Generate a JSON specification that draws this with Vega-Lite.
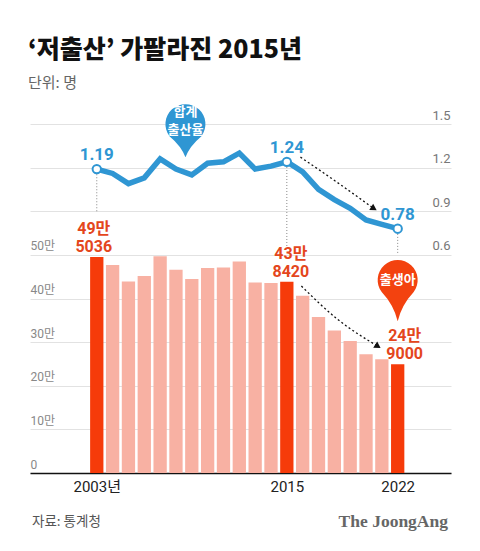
{
  "$schema": "https://vega.github.io/schema/vega-lite/v6.json",
  "width": 421,
  "height": 349,
  "autosize": {"type": "none"},
  "padding": {"left": 30, "top": 124, "right": 29, "bottom": 78},
  "background": "white",
  "config": {"view": {"stroke": null}, "font": "Roboto, Noto Sans CJK KR"},
  "title": {
    "text": "‘저출산’ 가팔라진 2015년",
    "subtitle": "단위: 명",
    "anchor": "start",
    "frame": "group",
    "font": "Noto Sans CJK KR",
    "fontSize": 25,
    "fontWeight": 900,
    "color": "#111111",
    "subtitleFont": "Noto Sans CJK KR",
    "subtitleFontSize": 15,
    "subtitleColor": "#666666",
    "subtitlePadding": 13,
    "offset": 13,
    "dx": -2
  },
  "datasets": {
    "main": [
      {"year": 2003, "births": 495036, "tfr": 1.19, "hl": true, "blabel": "49만\n5036", "tlabel": "1.19"},
      {"year": 2004, "births": 476958, "tfr": 1.16, "hl": false},
      {"year": 2005, "births": 438707, "tfr": 1.09, "hl": false},
      {"year": 2006, "births": 451759, "tfr": 1.13, "hl": false},
      {"year": 2007, "births": 496822, "tfr": 1.26, "hl": false},
      {"year": 2008, "births": 465892, "tfr": 1.19, "hl": false},
      {"year": 2009, "births": 444849, "tfr": 1.15, "hl": false},
      {"year": 2010, "births": 470171, "tfr": 1.23, "hl": false},
      {"year": 2011, "births": 471265, "tfr": 1.24, "hl": false},
      {"year": 2012, "births": 484550, "tfr": 1.30, "hl": false},
      {"year": 2013, "births": 436455, "tfr": 1.19, "hl": false},
      {"year": 2014, "births": 435435, "tfr": 1.21, "hl": false},
      {"year": 2015, "births": 438420, "tfr": 1.24, "hl": true, "blabel": "43만\n8420", "tlabel": "1.24"},
      {"year": 2016, "births": 406243, "tfr": 1.17, "hl": false},
      {"year": 2017, "births": 357771, "tfr": 1.05, "hl": false},
      {"year": 2018, "births": 326822, "tfr": 0.98, "hl": false},
      {"year": 2019, "births": 302676, "tfr": 0.92, "hl": false},
      {"year": 2020, "births": 272337, "tfr": 0.84, "hl": false},
      {"year": 2021, "births": 260562, "tfr": 0.81, "hl": false},
      {"year": 2022, "births": 249000, "tfr": 0.78, "hl": true, "blabel": "24만\n9000", "tlabel": "0.78"}
    ],
    "guides": [
      {"year": 2003, "top": 1.175, "bottom": 0.894},
      {"year": 2015, "top": 1.225, "bottom": 0.653},
      {"year": 2022, "top": 0.765, "bottom": 0.605}
    ],
    "barArrow": [
      {"year": 2015.92, "births": 428600},
      {"year": 2018.2, "births": 352500},
      {"year": 2020.75, "births": 290500}
    ],
    "tfrArrow": [
      {"year": 2015.86, "tfr": 1.272},
      {"year": 2018.19, "tfr": 1.098},
      {"year": 2020.5, "tfr": 0.918}
    ]
  },
  "layer": [
    {
      "data": {"name": "main"},
      "layer": [
        {
          "mark": {"type": "bar", "size": 13.3},
          "encoding": {
            "x": {
              "field": "year", "type": "quantitative",
              "scale": {"domain": [1999.1, 2025.05], "nice": false, "zero": false},
              "axis": {
                "values": [2003, 2015, 2022],
                "labelExpr": "datum.value == 2003 ? '2003년' : '' + datum.value",
                "title": null, "grid": false, "ticks": false, "tickSize": 0,
                "domain": true, "domainColor": "#111111", "domainWidth": 1.3,
                "labelPadding": 6, "labelFontSize": 15, "labelColor": "#222222",
                "labelFont": "Roboto, Noto Sans CJK KR", "labelFlush": false, "labelOverlap": false
              }
            },
            "y": {
              "field": "births", "type": "quantitative",
              "scale": {"domain": [0, 800000], "nice": false, "zero": true},
              "axis": {
                "values": [0, 100000, 200000, 300000, 400000, 500000, 600000, 700000, 800000],
                "labelExpr": "datum.value == 0 ? '0' : datum.value > 500000 ? '' : (datum.value / 10000) + '만'",
                "title": null, "grid": true, "gridColor": "#e2e2e2", "gridWidth": 1,
                "ticks": false, "tickSize": 0, "domain": false,
                "labelAlign": "left", "labelBaseline": "bottom", "labelPadding": 0, "labelOffset": -2,
                "labelFontSize": 12, "labelColor": "#888888", "labelFlush": false, "labelOverlap": false, "labelBound": false
              }
            },
            "color": {"condition": {"test": "datum.hl", "value": "#F63B0A"}, "value": "#F8B1A3"}
          }
        },
        {
          "transform": [{"filter": "datum.year == 2003"}],
          "mark": {"type": "text", "lineBreak": "\n", "baseline": "alphabetic", "align": "center", "dx": -3, "dy": -23, "fontSize": 16, "fontWeight": "bold", "lineHeight": 18, "color": "#E4461C"},
          "encoding": {
            "x": {"field": "year", "type": "quantitative"},
            "y": {"field": "births", "type": "quantitative"},
            "text": {"field": "blabel"}
          }
        },
        {
          "transform": [{"filter": "datum.year == 2015"}],
          "mark": {"type": "text", "lineBreak": "\n", "baseline": "alphabetic", "align": "center", "dx": 4, "dy": -23, "fontSize": 16, "fontWeight": "bold", "lineHeight": 18, "color": "#E4461C"},
          "encoding": {
            "x": {"field": "year", "type": "quantitative"},
            "y": {"field": "births", "type": "quantitative"},
            "text": {"field": "blabel"}
          }
        },
        {
          "transform": [{"filter": "datum.year == 2022"}],
          "mark": {"type": "text", "lineBreak": "\n", "baseline": "alphabetic", "align": "center", "dx": 7, "dy": -23, "fontSize": 16, "fontWeight": "bold", "lineHeight": 18, "color": "#E4461C"},
          "encoding": {
            "x": {"field": "year", "type": "quantitative"},
            "y": {"field": "births", "type": "quantitative"},
            "text": {"field": "blabel"}
          }
        },
        {
          "data": {"name": "barArrow"},
          "mark": {"type": "line", "interpolate": "monotone", "color": "#111111", "strokeWidth": 1.3, "strokeDash": [2, 2.5]},
          "encoding": {
            "x": {"field": "year", "type": "quantitative"},
            "y": {"field": "births", "type": "quantitative"}
          }
        },
        {
          "data": {"values": [{}]},
          "mark": {"type": "point", "shape": "triangle-right", "angle": 33, "size": 55, "filled": true, "color": "#111111", "opacity": 1},
          "encoding": {
            "x": {"datum": 2020.75, "type": "quantitative"},
            "y": {"datum": 290500, "type": "quantitative"}
          }
        },
        {
          "data": {"values": [{}]},
          "mark": {"type": "point", "shape": "M0,1.03 Q0.1,0.62 0.4,0.3 A0.5,0.5 0 1 0 -0.4,0.3 Q-0.1,0.62 0,1.03 Z", "size": 6400, "filled": true, "color": "#F3420F", "opacity": 1, "strokeWidth": 0},
          "encoding": {
            "x": {"datum": 2022, "type": "quantitative"},
            "y": {"datum": 442400, "type": "quantitative"}
          }
        },
        {
          "data": {"values": [{}]},
          "mark": {"type": "text", "text": "출생아", "font": "Noto Sans CJK KR", "fontSize": 13, "fontWeight": "bold", "color": "#ffffff", "baseline": "middle", "align": "center"},
          "encoding": {
            "x": {"datum": 2022, "type": "quantitative"},
            "y": {"datum": 442400, "type": "quantitative"}
          }
        },
        {
          "data": {"values": [{}]},
          "mark": {"type": "text", "text": "자료: 통계청", "font": "Noto Sans CJK KR", "fontSize": 13.5, "color": "#555555", "baseline": "middle", "align": "left", "dx": -3},
          "encoding": {
            "x": {"datum": 1999.1, "type": "quantitative"},
            "y": {"datum": -113000, "type": "quantitative"}
          }
        },
        {
          "data": {"values": [{}]},
          "mark": {"type": "text", "text": "The JoongAng", "font": "Liberation Serif", "fontSize": 17.5, "fontWeight": "bold", "color": "#666666", "baseline": "middle", "align": "right", "dx": 2},
          "encoding": {
            "x": {"datum": 2025.05, "type": "quantitative"},
            "y": {"datum": -113000, "type": "quantitative"}
          }
        }
      ]
    },
    {
      "layer": [
        {
          "data": {"name": "guides"},
          "mark": {"type": "rule", "color": "#888888", "strokeWidth": 1, "strokeDash": [1, 2]},
          "encoding": {
            "x": {"field": "year", "type": "quantitative"},
            "y": {"field": "top", "type": "quantitative", "scale": {"domain": [-0.9, 1.5], "nice": false, "zero": false}},
            "y2": {"field": "bottom"}
          }
        },
        {
          "data": {"name": "main"},
          "mark": {"type": "line", "color": "#2F96D3", "strokeWidth": 5.5},
          "encoding": {
            "x": {"field": "year", "type": "quantitative"},
            "y": {
              "field": "tfr", "type": "quantitative",
              "scale": {"domain": [-0.9, 1.5], "nice": false, "zero": false},
              "axis": {
                "orient": "right", "values": [0.6, 0.9, 1.2, 1.5], "format": ".1f",
                "title": null, "grid": false, "ticks": false, "tickSize": 0, "domain": false,
                "labelAlign": "right", "labelBaseline": "bottom", "labelPadding": -1, "labelOffset": -2,
                "labelFontSize": 13, "labelColor": "#777777", "labelFlush": false, "labelOverlap": false, "labelBound": false
              }
            }
          }
        },
        {
          "data": {"name": "main"},
          "transform": [{"filter": "datum.hl"}],
          "mark": {"type": "point", "filled": true, "fill": "#ffffff", "stroke": "#2F96D3", "strokeWidth": 2, "size": 70, "opacity": 1},
          "encoding": {
            "x": {"field": "year", "type": "quantitative"},
            "y": {"field": "tfr", "type": "quantitative"}
          }
        },
        {
          "data": {"name": "main"},
          "transform": [{"filter": "datum.hl"}],
          "mark": {"type": "text", "fontSize": 17, "fontWeight": "bold", "color": "#2F96D3", "baseline": "alphabetic", "align": "center", "dy": -9},
          "encoding": {
            "x": {"field": "year", "type": "quantitative"},
            "y": {"field": "tfr", "type": "quantitative"},
            "text": {"field": "tlabel"}
          }
        },
        {
          "data": {"name": "tfrArrow"},
          "mark": {"type": "line", "interpolate": "monotone", "color": "#111111", "strokeWidth": 1.3, "strokeDash": [2, 2.5]},
          "encoding": {
            "x": {"field": "year", "type": "quantitative"},
            "y": {"field": "tfr", "type": "quantitative"}
          }
        },
        {
          "data": {"values": [{}]},
          "mark": {"type": "point", "shape": "triangle-right", "angle": 32, "size": 55, "filled": true, "color": "#111111", "opacity": 1},
          "encoding": {
            "x": {"datum": 2020.5, "type": "quantitative"},
            "y": {"datum": 0.918, "type": "quantitative"}
          }
        },
        {
          "data": {"values": [{}]},
          "mark": {"type": "point", "shape": "M0,0.83 Q0.1,0.55 0.4,0.3 A0.5,0.5 0 1 0 -0.4,0.3 Q-0.1,0.55 0,0.83 Z", "size": 6400, "filled": true, "color": "#2F96D3", "opacity": 1, "strokeWidth": 0},
          "encoding": {
            "x": {"datum": 2008.6, "type": "quantitative"},
            "y": {"datum": 1.499, "type": "quantitative"}
          }
        },
        {
          "data": {"values": [{}]},
          "mark": {"type": "text", "text": ["합계", "출산율"], "font": "Noto Sans CJK KR", "fontSize": 13, "fontWeight": "bold", "color": "#ffffff", "baseline": "middle", "align": "center", "lineHeight": 18, "dy": -12},
          "encoding": {
            "x": {"datum": 2008.6, "type": "quantitative"},
            "y": {"datum": 1.499, "type": "quantitative"}
          }
        }
      ]
    }
  ],
  "resolve": {"scale": {"y": "independent"}}
}
